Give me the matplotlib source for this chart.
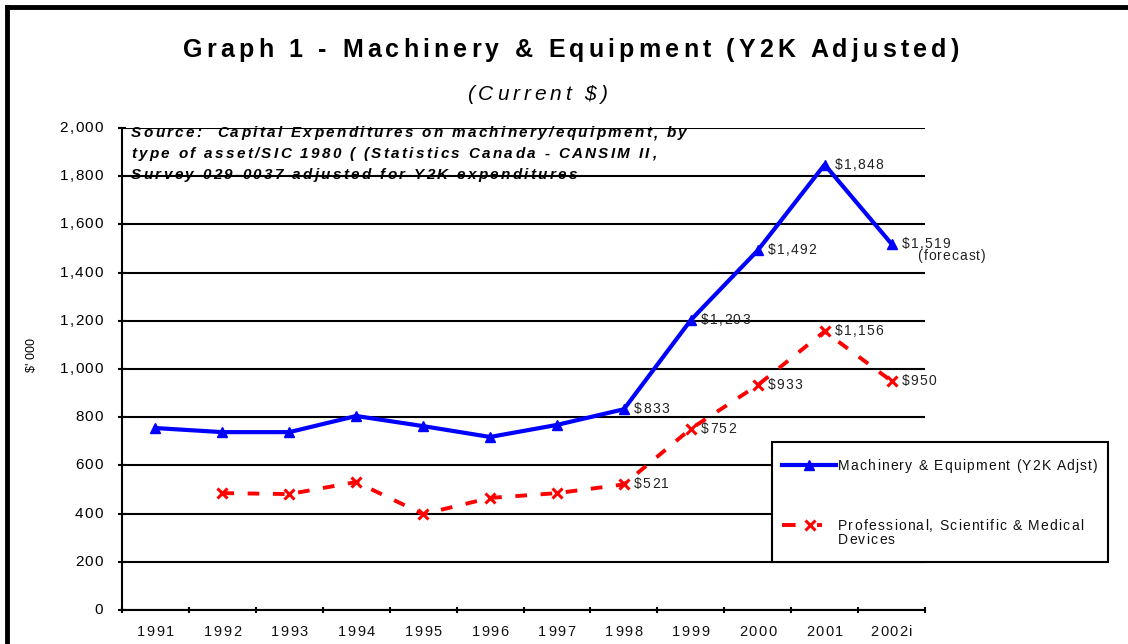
import numpy as np
import matplotlib
matplotlib.use('Agg')
import matplotlib.pyplot as plt
from matplotlib.lines import Line2D
from matplotlib.patches import Rectangle

plt.rcParams['font.family'] = ['Liberation Sans', 'DejaVu Sans']

# data
years = ['1991', '1992', '1993', '1994', '1995', '1996',
         '1997', '1998', '1999', '2000', '2001', '2002i']
machinery = [755, 738, 738, 805, 763, 718, 768, 833, 1203, 1492, 1848, 1519]
professional = [np.nan, 485, 481, 531, 398, 465, 485, 521, 752, 933, 1156, 950]
yticks = list(range(0, 2001, 200))

mach_labels = {7: '$833', 8: '$1,203', 9: '$1,492', 10: '$1,848', 11: '$1,519'}
prof_labels = {7: '$521', 8: '$752', 9: '$933', 10: '$1,156', 11: '$950'}

W, H = 1128, 644
fig = plt.figure(figsize=(W / 100, H / 100), dpi=100)
renderer = fig.canvas.get_renderer()


def fx(px):
    return px / W


def fy(py):
    # py measured from the top of the image
    return 1 - py / H


def text_width(s, **kw):
    t = fig.text(0, 0, s, **kw)
    w = t.get_window_extent(renderer).width
    t.remove()
    return w


def advance(s, **kw):
    # advance width of s, measured between two bars so bearings cancel
    return text_width('|' + s + '|', **kw) - text_width('||', **kw)


def spaced(xd, yd, s, sp, ha='left', va='center', **kw):
    # draw text with extra letter spacing; xd, yd in display pixels
    total = advance(s, **kw) + sp * (len(s) - 1)
    if ha == 'center':
        x0 = xd - total / 2
    elif ha == 'right':
        x0 = xd - total
    else:
        x0 = xd
    for i, ch in enumerate(s):
        if ch == ' ':
            continue
        left = advance(s[:i], **kw) if i else 0
        fig.text((x0 + left + i * sp) / W, yd / H, ch, ha='left', va=va, **kw)


ax = fig.add_axes([fx(122), fy(610), fx(925 - 122), (610 - 128) / H])

x = np.arange(len(years))
ax.plot(x, machinery, color='#0000ff', lw=3, marker='^', ms=7, zorder=4)
ax.plot(x, professional, color='#ff0000', lw=2.8, ls=(0, (3, 3.5)), marker='x',
        ms=7, mew=2.2, zorder=3)

ax.set_xlim(-0.5, len(years) - 0.5)
ax.set_ylim(0, 2000)
ax.set_yticks(yticks)
ax.set_yticklabels([])
ax.set_xticks(x)
ax.set_xticklabels([])
ax.set_xticks(np.arange(-0.5, len(years)), minor=True)
ax.tick_params(axis='x', which='major', length=0)
ax.tick_params(axis='x', which='minor', length=5, width=1.5, direction='inout')
ax.tick_params(axis='y', length=6, width=1.5, direction='inout')
ax.grid(axis='y', color='black', lw=1.5)
ax.set_axisbelow(True)
for sp in ['top', 'right']:
    ax.spines[sp].set_visible(False)
for sp in ['left', 'bottom']:
    ax.spines[sp].set_linewidth(1.5)

# tick labels with letter spacing
for v in yticks:
    xd, yd = ax.transData.transform((-0.5, v))
    spaced(xd - 19, yd, '{:,}'.format(v), 1.3, ha='right', fontsize=11)
for i, s in enumerate(years):
    xd, yd = ax.transData.transform((x[i], 0))
    spaced(xd, yd - 22, s, 1.6, ha='center', fontsize=10.5, color='#111111')

# data labels
for i, s in mach_labels.items():
    xd, yd = ax.transData.transform((x[i], machinery[i]))
    spaced(xd + 10, yd, s, 1.3, fontsize=10, color='#222222')
for i, s in prof_labels.items():
    xd, yd = ax.transData.transform((x[i], professional[i]))
    spaced(xd + 10, yd, s, 1.3, fontsize=10, color='#222222')
xd, yd = ax.transData.transform((x[11], machinery[11]))
spaced(xd + 26, yd - 12, '(forecast)', 1.0, fontsize=10, color='#222222')

fig.text(fx(32), fy(355), "$' 000", rotation=90, ha='center', va='center', fontsize=9)

# titles and source note
spaced(571, H - 50, 'Graph 1 - Machinery & Equipment (Y2K Adjusted)', 4.2,
       ha='center', fontsize=18, fontweight='bold')
spaced(537, H - 94, '(Current $)', 3.8, ha='center', fontsize=15, style='italic')
source = ['Source:  Capital Expenditures on machinery/equipment, by',
          'type of asset/SIC 1980 ( (Statistics Canada - CANSIM II,',
          'Survey 029-0037 adjusted for Y2K expenditures']
for k, line in enumerate(source):
    spaced(131, H - (133 + 21 * k), line, 2.3, fontsize=11, fontweight='bold',
           style='italic')

# legend box
fig.add_artist(Rectangle((fx(772), fy(562)), fx(1108 - 772), (562 - 442) / H,
                         fill=True, facecolor='white', edgecolor='black', lw=1.5,
                         transform=fig.transFigure, zorder=5))
fig.add_artist(Line2D([fx(782), fx(836)], [fy(465), fy(465)], color='#0000ff', lw=3,
                      transform=fig.transFigure, zorder=6))
fig.add_artist(Line2D([fx(809)], [fy(465)], color='#0000ff', marker='^', ms=7, ls='none',
                      transform=fig.transFigure, zorder=6))
fig.add_artist(Line2D([fx(782), fx(822)], [fy(525), fy(525)], color='#ff0000', lw=2.8,
                      ls=(0, (3.5, 5.5)), transform=fig.transFigure, zorder=6))
fig.add_artist(Line2D([fx(810)], [fy(525)], color='#ff0000', marker='x', ms=7, mew=2.2,
                      ls='none', transform=fig.transFigure, zorder=6))
spaced(838, H - 466, 'Machinery & Equipment (Y2K Adjst)', 1.2, fontsize=10,
       color='#111111', zorder=7)
spaced(838, H - 526, 'Professional, Scientific & Medical', 1.2, fontsize=10,
       color='#111111', zorder=7)
spaced(838, H - 540, 'Devices', 1.2, fontsize=10, color='#111111', zorder=7)

# outer border (left and top only are visible in the reference)
fig.add_artist(Line2D([fx(7), fx(7)], [0, fy(7)], color='black', lw=3.5,
                      transform=fig.transFigure))
fig.add_artist(Line2D([fx(7), 1], [fy(7), fy(7)], color='black', lw=3.5,
                      transform=fig.transFigure))

fig.savefig('out.png', dpi=100)
